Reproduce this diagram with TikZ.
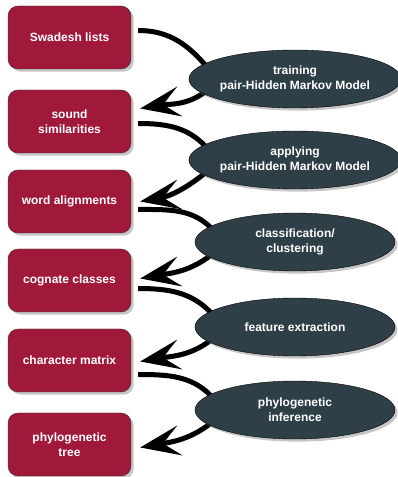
\documentclass[tikz,border=0pt]{standalone}
\usepackage{fontspec}
\setmainfont{Liberation Sans}
\usepackage{tikz}
\usetikzlibrary{arrows.meta,shapes.geometric,shadows,backgrounds}
\definecolor{wine}{RGB}{160,25,58}
\definecolor{slate}{RGB}{47,63,72}

\begin{document}
\begin{tikzpicture}[x=1pt,y=1pt,
  every node/.style={font=\bfseries\fontsize{12}{15}\selectfont,text=white,align=center},
  datum/.style={draw=black!80,fill=wine,rounded corners=10pt,minimum width=123pt,minimum height=63pt,drop shadow={opacity=0.45}},
  method/.style={ellipse,draw=black,fill=slate,minimum width=200pt,minimum height=58pt,inner sep=0pt,drop shadow={opacity=0.45}},
  flow/.style={line width=5pt,black,preaction={draw,black,opacity=0.25,transform canvas={shift={(2pt,-2pt)}}}}]
\useasboundingbox (0,0) rectangle (397,477);
% data
\node[datum] (swadesh) at (69.5,439.5) {Swadesh lists};
\node[datum] (sound) at (69.5,355.5) {sound\\similarities};
\node[datum] (align) at (69.5,275.5) {word alignments};
\node[datum] (cognate) at (69.5,196.5) {cognate classes};
\node[datum] (matrix) at (69.5,116.5) {character matrix};
\node[datum] (tree) at (69.5,32.5) {phylogenetic\\tree};
% methods
\node[method] (train) at (295,398) {training\\pair-Hidden Markov Model};
\node[method] (apply) at (295,317) {applying\\pair-Hidden Markov Model};
\node[method] (classify) at (295,235) {classification/\\clustering};
\node[method] (extract) at (295,150) {feature extraction};
\node[method] (infer) at (295,67) {phylogenetic\\inference};
% flows behind the methods
\begin{scope}[on background layer]
\foreach \a/\m/\b/\s/\t in {swadesh/train/sound/7/13,sound/apply/align/-2/0,align/classify/cognate/-8/2,cognate/extract/matrix/-8/-1,matrix/infer/tree/-14/-3}
{\draw[flow] ([shift={(7,\s)}]\a.east) to[out=0,in=130] ([shift={(20,10)}]\m.west);
 \draw[flow,-{Stealth[length=40pt,width=30pt,inset=17pt]}] ([shift={(20,-10)}]\m.west) to[out=220,in=10] ([shift={(9,\t)}]\b.east);}
\end{scope}
\end{tikzpicture}
\end{document}
